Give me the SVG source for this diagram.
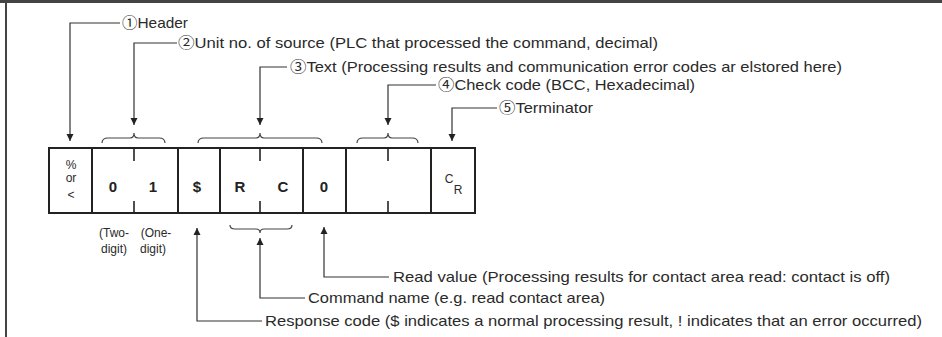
<svg xmlns="http://www.w3.org/2000/svg" width="942" height="337" viewBox="0 0 942 337">
<style>
.bg{fill:#ffffff}
.frame{stroke:#444;fill:none}
.cell{fill:#ffffff;stroke:#222;stroke-width:2}
.tick{stroke:#222;stroke-width:1.6}
.lead{fill:none;stroke:#333;stroke-width:1.2}
.brace{fill:none;stroke:#444;stroke-width:1.2}
.lbl{font-family:"Liberation Sans","Noto Sans CJK JP",sans-serif;font-size:15px;fill:#2a2a2a}
.ch{font-family:"Liberation Sans",sans-serif;font-size:15px;font-weight:bold;fill:#222;text-anchor:middle}
.sm{font-family:"Liberation Sans",sans-serif;font-size:12px;fill:#2a2a2a;text-anchor:middle}
</style>
<defs>
<marker id="arr" viewBox="0 0 10 10" refX="10" refY="5" markerWidth="7" markerHeight="8" markerUnits="userSpaceOnUse" orient="auto">
<path d="M0,0 L10,5 L0,10 z" fill="#222"/>
</marker>
</defs>
<rect class="bg" x="0" y="0" width="942" height="337"/>
<line class="frame" x1="0" y1="1.5" x2="942" y2="1.5" stroke-width="3"/>
<line class="frame" x1="6" y1="0" x2="6" y2="337" stroke-width="2"/>

<g id="cell-header">
<rect class="cell" x="49" y="148" width="43" height="65"/>
<text class="sm" x="71" y="169">%</text>
<text class="sm" x="71" y="182" font-size="10">or</text>
<text class="sm" x="71" y="199" font-size="14">&lt;</text>
</g>
<g id="cell-unit">
<rect class="cell" x="92" y="148" width="86" height="65"/>
<line class="tick" x1="134" y1="149" x2="134" y2="161"/>
<line class="tick" x1="134" y1="201" x2="134" y2="212"/>
<text class="ch" x="113" y="192">0</text>
<text class="ch" x="153" y="192">1</text>
</g>
<g id="cell-response">
<rect class="cell" x="178" y="148" width="42" height="65"/>
<text class="ch" x="197" y="192">$</text>
</g>
<g id="cell-command">
<rect class="cell" x="220" y="148" width="83" height="65"/>
<line class="tick" x1="260" y1="149" x2="260" y2="161"/>
<line class="tick" x1="260" y1="201" x2="260" y2="212"/>
<text class="ch" x="240" y="192">R</text>
<text class="ch" x="283" y="192">C</text>
</g>
<g id="cell-readvalue">
<rect class="cell" x="303" y="148" width="43" height="65"/>
<text class="ch" x="324" y="192">0</text>
</g>
<g id="cell-checkcode">
<rect class="cell" x="346" y="148" width="85" height="65"/>
<line class="tick" x1="388" y1="149" x2="388" y2="161"/>
<line class="tick" x1="388" y1="201" x2="388" y2="212"/>
</g>
<g id="cell-terminator">
<rect class="cell" x="431" y="148" width="44" height="65"/>
<text class="sm" x="449" y="183" font-size="11">C</text>
<text class="sm" x="458" y="194" font-size="13">R</text>
</g>

<g id="digit-notes">
<text class="sm" x="114" y="237">(Two-</text>
<text class="sm" x="114" y="253">digit)</text>
<text class="sm" x="156" y="237">(One-</text>
<text class="sm" x="153" y="253">digit)</text>
</g>

<g id="connectors">
<path class="brace" d="M102,143 Q102,138 108,138 L130,138 Q134,138 134,133 Q134,138 138,138 L159,138 Q165,138 165,143"/>
<path class="brace" d="M198,143 Q198,138 204,138 L256,138 Q260,138 260,133 Q260,138 264,138 L316,138 Q322,138 322,143"/>
<path class="brace" d="M357,143 Q357,138 363,138 L384,138 Q388,138 388,133 Q388,138 392,138 L412,138 Q418,138 418,143"/>
<path class="brace" d="M230,225 Q230,229 235,229 L256,229 Q260,229 260,233 Q260,229 264,229 L287,229 Q292,229 292,225"/>
<path class="lead" d="M120,23 H70 V141" marker-end="url(#arr)"/>
<path class="lead" d="M177,43 H134 V125" marker-end="url(#arr)"/>
<path class="lead" d="M287,67 H260 V125" marker-end="url(#arr)"/>
<path class="lead" d="M436,85 H388 V125" marker-end="url(#arr)"/>
<path class="lead" d="M497,108 H452 V141" marker-end="url(#arr)"/>
<path class="lead" d="M389,277 H324 V227" marker-end="url(#arr)"/>
<path class="lead" d="M305,298 H260 V238" marker-end="url(#arr)"/>
<path class="lead" d="M262,321 H197 V228" marker-end="url(#arr)"/>
</g>

<g id="label-header"><text class="lbl" x="122" y="28" textLength="66" lengthAdjust="spacingAndGlyphs">①Header</text></g>
<g id="label-unit"><text class="lbl" x="178" y="48" textLength="480" lengthAdjust="spacingAndGlyphs">②Unit no. of source (PLC that processed the command, decimal)</text></g>
<g id="label-text"><text class="lbl" x="290" y="72" textLength="552" lengthAdjust="spacingAndGlyphs">③Text (Processing results and communication error codes ar elstored here)</text></g>
<g id="label-check"><text class="lbl" x="438" y="90" textLength="257" lengthAdjust="spacingAndGlyphs">④Check code (BCC, Hexadecimal)</text></g>
<g id="label-term"><text class="lbl" x="499" y="113" textLength="94" lengthAdjust="spacingAndGlyphs">⑤Terminator</text></g>
<g id="label-read"><text class="lbl" x="393" y="282" textLength="497" lengthAdjust="spacingAndGlyphs">Read value (Processing results for contact area read: contact is off)</text></g>
<g id="label-command"><text class="lbl" x="308" y="303" textLength="297" lengthAdjust="spacingAndGlyphs">Command name (e.g. read contact area)</text></g>
<g id="label-response"><text class="lbl" x="265" y="326" textLength="657" lengthAdjust="spacingAndGlyphs">Response code ($ indicates a normal processing result, ! indicates that an error occurred)</text></g>
</svg>
